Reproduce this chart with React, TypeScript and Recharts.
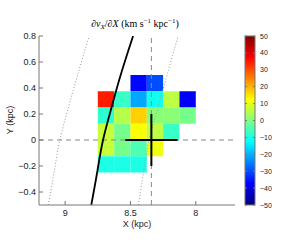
import { ComposedChart, XAxis, YAxis, Line, ReferenceArea, ReferenceLine } from "recharts";

// cell centres (kpc), cell size 0.125
const colX = [8.6875, 8.5625, 8.4375, 8.3125, 8.1875, 8.0625];
const rowY = [0.4375, 0.3125, 0.1875, 0.0625, -0.0625, -0.1875];
const cellSize = 0.125;

// dvX/dX per row (top to bottom), null = no data
const dvdx: (number | null)[][] = [
  [null, null, -37, -30, null, null],
  [35, -7, -21, -11, 6, -38],
  [-8, 5, 17, 1, 1, -1],
  [7, -1, 12, 6, -7, null],
  [7, -1, -5, 11, null, null],
  [-10, -10, -10, null, null, null],
];

const curveY = [-0.5, -0.25, 0, 0.25, 0.5, 0.8];
const solidX = [8.8, 8.755, 8.71, 8.645, 8.575, 8.48];
const leftDotX = [9.13, 9.085, 9.04, 8.975, 8.905, 8.815];
const rightDotX = [8.44, 8.4, 8.357, 8.29, 8.22, 8.135];

const sun = { x: 8.34, y: 0 };
const sunErr = 0.2;

const xTicks = [8, 8.5, 9];
const yTicks = [-0.4, -0.2, 0, 0.2, 0.4, 0.6, 0.8];
const cbTicks = [50, 40, 30, 20, 10, 0, -10, -20, -30, -40, -50];

const clamp = (v: number) => Math.max(0, Math.min(1, v));
function jet(v: number) {
  const t = clamp((v + 50) / 100);
  const r = clamp(1.5 - Math.abs(4 * t - 3));
  const g = clamp(1.5 - Math.abs(4 * t - 2));
  const b = clamp(1.5 - Math.abs(4 * t - 1));
  return `rgb(${Math.round(r * 255)},${Math.round(g * 255)},${Math.round(b * 255)})`;
}

const toPts = (xs: number[]) => xs.map((x, i) => ({ x, y: curveY[i] }));
const fmt = (v: number) => String(v).replace("-", "\u2212");

const axisColor = "#777";
const tickFont = { fontSize: 9, fill: "#222", fontFamily: "Liberation Sans, Arial, sans-serif" };

export default function App() {
  const cells: JSX.Element[] = [];
  dvdx.forEach((row, ri) =>
    row.forEach((v, ci) => {
      if (v === null) return;
      cells.push(
        <ReferenceArea
          key={`c${ri}-${ci}`}
          x1={colX[ci] - cellSize / 2}
          x2={colX[ci] + cellSize / 2}
          y1={rowY[ri] - cellSize / 2}
          y2={rowY[ri] + cellSize / 2}
          fill={jet(v)}
          fillOpacity={1}
          stroke="none"
        />
      );
    })
  );

  const cbTop = 36;
  const cbH = 169;
  const cbY = (v: number) => cbTop + ((50 - v) / 100) * cbH;

  return (
    <div style={{ position: "absolute", left: 0, top: 0, width: 300, height: 250, background: "#fff" }}>
      <ComposedChart width={300} height={250} margin={{ top: 36, right: 65, bottom: 25, left: 0 }}>
        <XAxis
          dataKey="x"
          type="number"
          domain={[7.7, 9.2]}
          reversed
          allowDataOverflow
          ticks={xTicks}
          interval={0}
          height={20}
          tickSize={-4}
          tickMargin={9}
          stroke={axisColor}
          tick={tickFont}
        />
        <XAxis
          xAxisId="t"
          orientation="top"
          type="number"
          domain={[7.7, 9.2]}
          reversed
          allowDataOverflow
          ticks={xTicks}
          interval={0}
          height={0}
          tickSize={-4}
          tick={false}
          stroke={axisColor}
        />
        <YAxis
          type="number"
          domain={[-0.5, 0.8]}
          allowDataOverflow
          ticks={yTicks}
          interval={0}
          width={39}
          tickSize={-4}
          tickMargin={7}
          tickFormatter={fmt}
          stroke={axisColor}
          tick={tickFont}
        />
        <YAxis
          yAxisId="r"
          orientation="right"
          type="number"
          domain={[-0.5, 0.8]}
          allowDataOverflow
          ticks={yTicks}
          interval={0}
          width={0}
          tickSize={-4}
          tick={false}
          stroke={axisColor}
        />
        {cells}
        <ReferenceLine x={sun.x} stroke="#888" strokeDasharray="5 4" />
        <ReferenceLine y={0} stroke="#888" strokeDasharray="5 4" />
        <Line data={toPts(leftDotX)} dataKey="y" type="natural" stroke="#999" strokeWidth={1} strokeDasharray="1 2" dot={false} isAnimationActive={false} />
        <Line data={toPts(rightDotX)} dataKey="y" type="natural" stroke="#999" strokeWidth={1} strokeDasharray="1 2" dot={false} isAnimationActive={false} />
        <Line data={toPts(solidX)} dataKey="y" type="natural" stroke="#000" strokeWidth={1.8} dot={false} isAnimationActive={false} />
        <Line
          data={[{ x: sun.x + sunErr, y: sun.y }, { x: sun.x - sunErr, y: sun.y }]}
          dataKey="y"
          stroke="#000"
          strokeWidth={2}
          dot={false}
          isAnimationActive={false}
        />
        <Line
          data={[{ x: sun.x, y: sun.y + sunErr }, { x: sun.x, y: sun.y - sunErr }]}
          dataKey="y"
          stroke="#000"
          strokeWidth={2}
          dot={false}
          isAnimationActive={false}
        />
      </ComposedChart>
      <svg width={300} height={250} style={{ position: "absolute", left: 0, top: 0, pointerEvents: "none" }}>
        <defs>
          <linearGradient id="jetbar" x1="0" y1="0" x2="0" y2="1">
            {[0, 0.125, 0.25, 0.375, 0.5, 0.625, 0.75, 0.875, 1].map((o) => (
              <stop key={o} offset={o} stopColor={jet(50 - o * 100)} />
            ))}
          </linearGradient>
        </defs>
        <text x={135} y={27} textAnchor="middle" fontFamily="Liberation Serif, Times New Roman, serif" fontSize={10} fill="#000">
          <tspan>∂</tspan>
          <tspan fontStyle="italic">v</tspan>
          <tspan fontStyle="italic" fontSize={7} dy={2}>X</tspan>
          <tspan dy={-2}>/∂</tspan>
          <tspan fontStyle="italic">X</tspan>
          <tspan> (km s</tspan>
          <tspan fontSize={7} dy={-4}>−1</tspan>
          <tspan dy={4}> kpc</tspan>
          <tspan fontSize={7} dy={-4}>−1</tspan>
          <tspan dy={4}>)</tspan>
        </text>
        <text x={137} y={227} textAnchor="middle" fontFamily="Liberation Sans, Arial, sans-serif" fontSize={9} fill="#222">
          X (kpc)
        </text>
        <text
          x={0}
          y={0}
          transform="translate(13,120) rotate(-90)"
          textAnchor="middle"
          fontFamily="Liberation Sans, Arial, sans-serif"
          fontSize={9}
          fill="#222"
        >
          Y (kpc)
        </text>
        <rect x={245} y={cbTop} width={10} height={cbH} fill="url(#jetbar)" stroke={axisColor} strokeWidth={1} />
        {cbTicks.map((t) => (
          <g key={t}>
            <line x1={245} x2={247} y1={cbY(t)} y2={cbY(t)} stroke={axisColor} />
            <line x1={253} x2={255} y1={cbY(t)} y2={cbY(t)} stroke={axisColor} />
            <text x={260} y={cbY(t) + 2.5} fontFamily="Liberation Sans, Arial, sans-serif" fontSize={7} fill="#222">
              {fmt(t)}
            </text>
          </g>
        ))}
      </svg>
    </div>
  );
}
